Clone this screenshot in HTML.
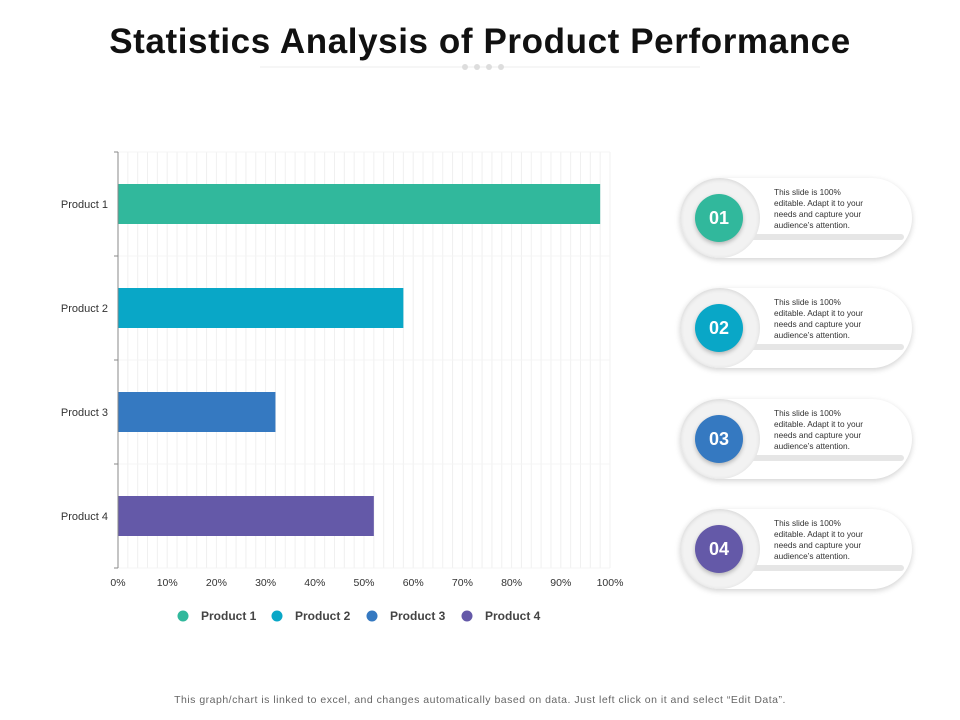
<!DOCTYPE html>
<html><head><meta charset="utf-8"><style>
body{margin:0;width:960px;height:720px;background:#fff;font-family:"Liberation Sans",sans-serif;overflow:hidden;position:relative}
.title{position:absolute;left:0;width:960px;top:22px;text-align:center;font-weight:bold;font-size:35px;letter-spacing:0.6px;color:#111}
.foot{position:absolute;top:694px;width:960px;text-align:center;font-size:10.5px;letter-spacing:0.5px;color:#666}
.card{position:absolute;left:680px;width:232px;height:80px;border-radius:40px;background:#fff;box-shadow:0 2px 6px rgba(0,0,0,.18)}
.card .shelf{position:absolute;left:60px;right:8px;top:56px;height:6px;background:#e6e6e6;border-radius:3px}
.card .outer{position:absolute;left:0;top:0;width:80px;height:80px;border-radius:40px;background:#f2f2f2;box-shadow:inset 0 1px 4px rgba(0,0,0,.12)}
.card .num{position:absolute;left:15px;top:16px;width:48px;height:48px;border-radius:24px;color:#fff;font-weight:bold;font-size:18px;line-height:48px;text-align:center;box-shadow:0 2px 4px rgba(0,0,0,.25)}
.card .txt{position:absolute;left:94px;top:9px;width:130px;font-size:8.3px;line-height:11px;color:#333;white-space:nowrap}
</style></head><body>
<div class="title">Statistics Analysis of Product Performance</div>
<svg width="960" height="720" style="position:absolute;left:0;top:0">
<line x1="260" y1="67" x2="700" y2="67" stroke="#eee" stroke-width="1"/>
<g fill="#ddd"><circle cx="465" cy="67" r="3"/><circle cx="477" cy="67" r="3"/><circle cx="489" cy="67" r="3"/><circle cx="501" cy="67" r="3"/></g>
<g id="grid"></g><g id="bars"></g><g id="axes"></g><g id="legend"></g>
</svg>
<div class="foot">This graph/chart is linked to excel, and changes automatically based on data. Just left click on it and select “Edit Data”.</div>
<div id="cards"></div>
<script>
const categories=["Product 1","Product 2","Product 3","Product 4"];
const values=[98,58,32,52];
const colors=["#31b89c","#09a7c7","#3579c1","#6459a8"];
const tickLabels=["0%","10%","20%","30%","40%","50%","60%","70%","80%","90%","100%"];
const cardNums=["01","02","03","04"];
const NS="http://www.w3.org/2000/svg";
const X0=118,X1=610,Y0=152,Y1=568;
const xs=v=>X0+(X1-X0)*v/100;
const band=(Y1-Y0)/categories.length;
const yc=i=>Y0+band*(i+0.5);
function mk(t,a,p){const e=document.createElementNS(NS,t);for(const k in a)e.setAttribute(k,a[k]);p.appendChild(e);return e;}
const grid=document.getElementById('grid'),bars=document.getElementById('bars'),axes=document.getElementById('axes'),leg=document.getElementById('legend');
for(let v=2;v<=100;v+=2){const l=mk('line',{x1:xs(v),x2:xs(v),y1:Y0,y2:Y1,stroke:'#f0f0f0','stroke-width':1},grid);

}
for(let i=0;i<=categories.length;i++){const l=mk('line',{x1:X0,x2:X1,y1:Y0+band*i,y2:Y0+band*i,stroke:'#f4f4f4'},grid);

}
const ya=mk('line',{x1:X0,x2:X0,y1:Y0,y2:Y1,stroke:'#888'},axes);


for(let i=0;i<=categories.length;i++){mk('line',{x1:X0-4,x2:X0,y1:Y0+band*i,y2:Y0+band*i,stroke:'#888'},axes);}
categories.forEach((c,i)=>{
 const r=mk('rect',{x:X0,y:yc(i)-20,width:xs(values[i])-X0,height:40,fill:colors[i]},bars);
 
 
 const t=mk('text',{x:X0-10,y:yc(i)+4,'text-anchor':'end','font-size':11,fill:'#333'},axes);t.textContent=c;
 
 
});
tickLabels.forEach((s,i)=>{const t=mk('text',{x:xs(i*10),y:586,'text-anchor':'middle','font-size':10.5,fill:'#333'},axes);t.textContent=s;
 
 });
const lx=[183,277,372,467];
categories.forEach((c,i)=>{const g=mk('g',{},leg);
 
 
 mk('circle',{cx:lx[i],cy:616,r:5.5,fill:colors[i]},g);
 const t=mk('text',{x:lx[i]+18,y:620,'font-size':12,'font-weight':'bold',fill:'#444'},g);t.textContent=c;});
const cards=document.getElementById('cards');
cardNums.forEach((n,i)=>{const d=document.createElement('div');d.className='card';d.style.top=(178+i*110.3)+'px';
 
 
 d.innerHTML='<div class="shelf"></div><div class="outer"></div><div class="num" style="background:'+colors[i]+'">'+n+'</div><div class="txt">This slide is 100%<br>editable. Adapt it to your<br>needs and capture your<br>audience’s attention.</div>';
 cards.appendChild(d);});
</script>
</body></html>
